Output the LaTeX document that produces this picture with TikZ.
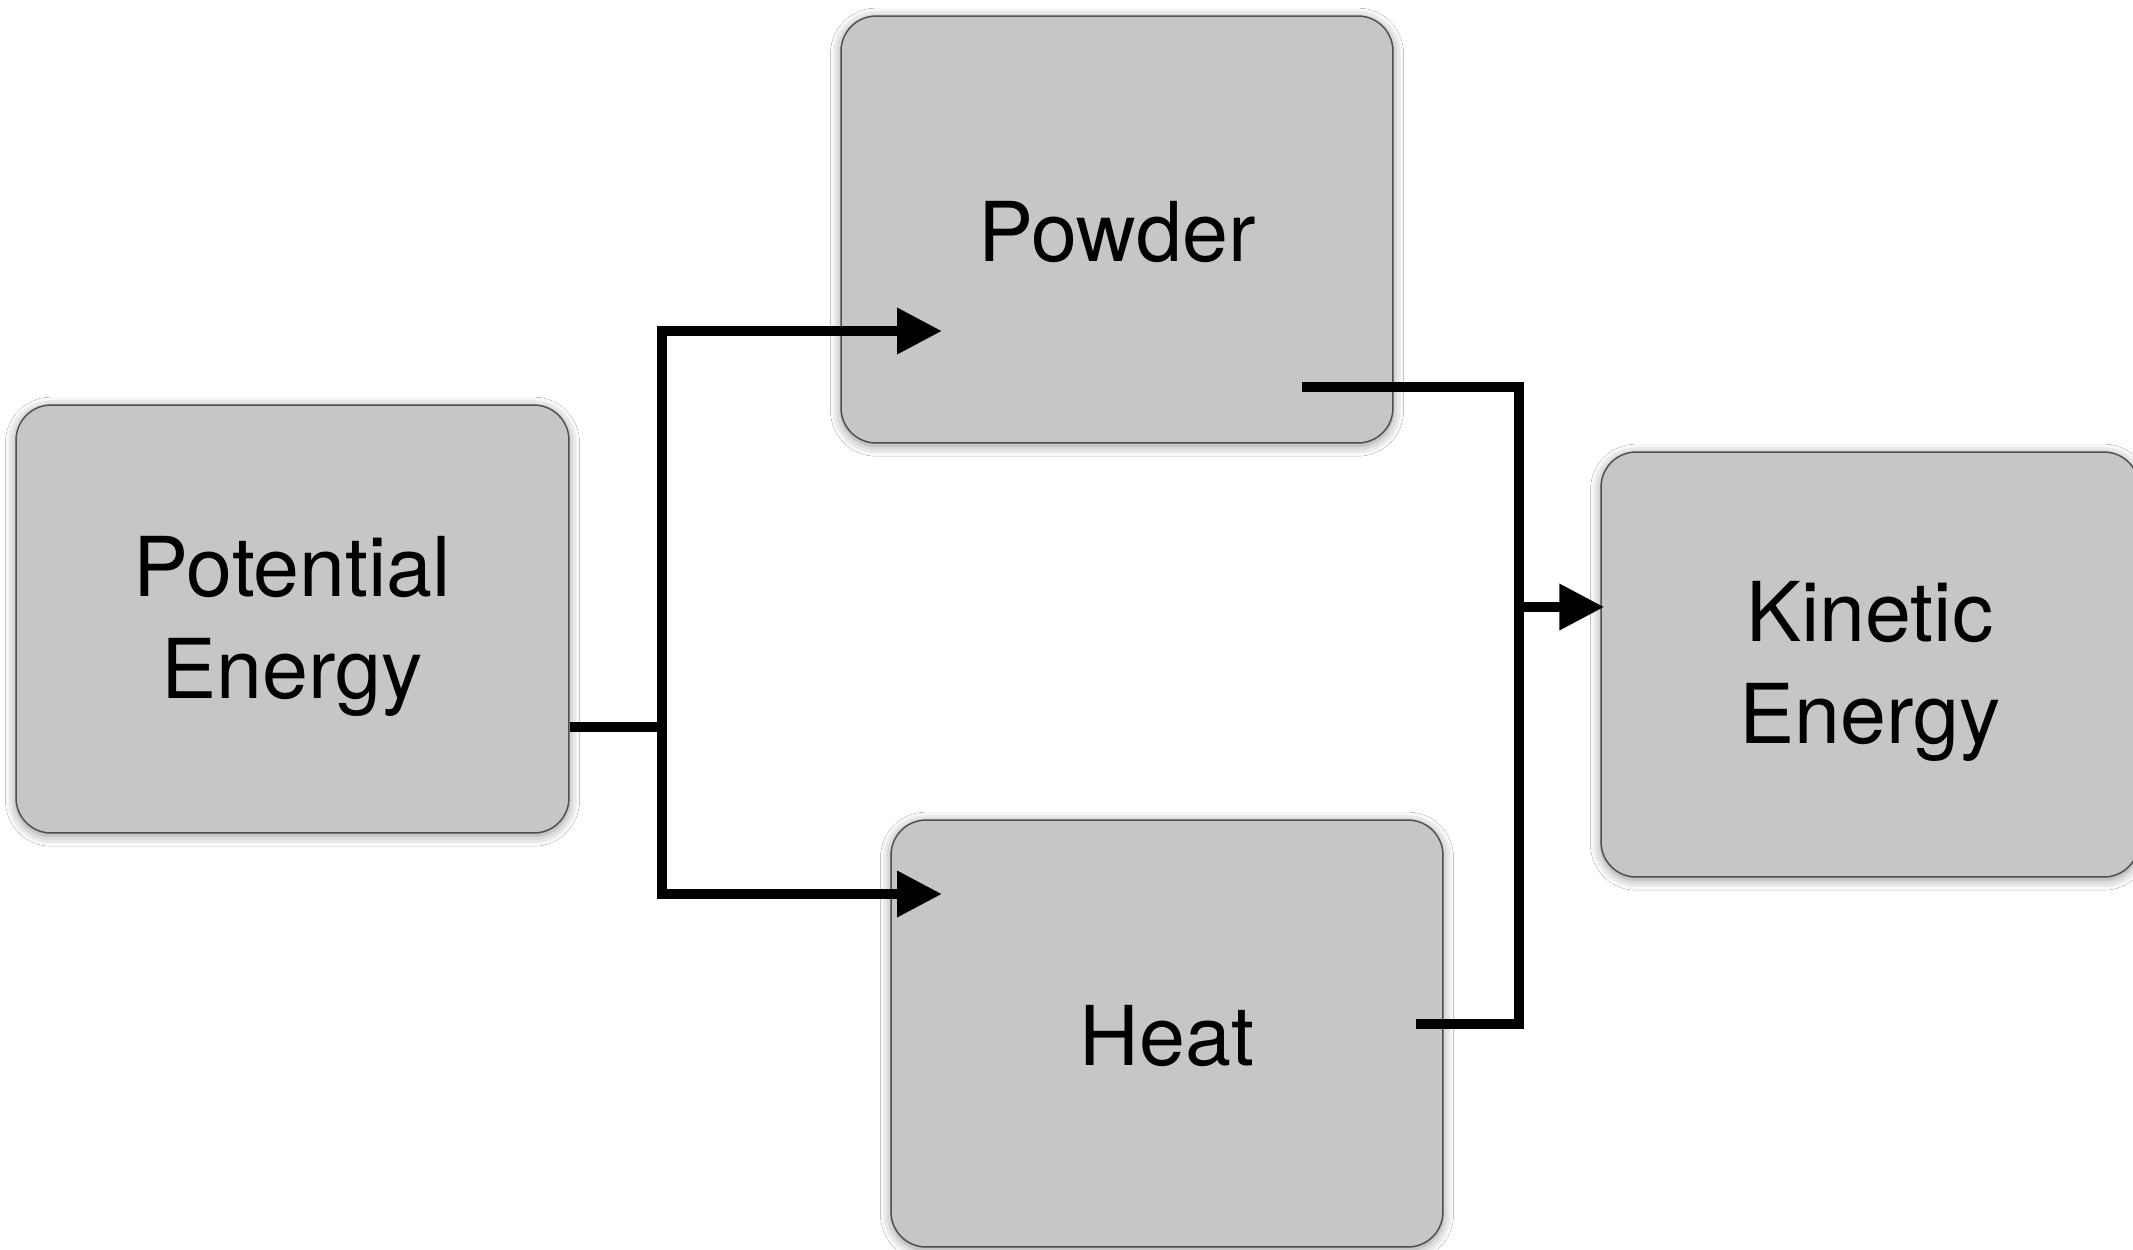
\documentclass[tikz,border=0pt]{standalone}
\usepackage{fontspec}
\setmainfont{TeX Gyre Heros}
\usetikzlibrary{arrows.meta,shadows.blur}
\definecolor{boxfill}{HTML}{C6C6C8}
\definecolor{boxline}{HTML}{505050}
\tikzset{
  px/.style={x=0.02cm,y=-0.02cm},
  energybox/.style={draw=boxline, line width=0.85pt, fill=boxfill, rounded corners=0.7cm,
    inner sep=0pt, align=center, text=black,
    font=\fontsize{47}{58}\selectfont,
    blur shadow={shadow xshift=0pt, shadow yshift=-1.5pt, shadow blur radius=6pt, shadow opacity=45}},
  conn/.style={line width=0.2cm, black, line cap=butt, line join=miter},
  arr/.style={conn, -{Triangle[length=0.9cm, width=0.88cm]}}
}
\begin{document}
\begin{tikzpicture}[px]
\useasboundingbox (0,0) rectangle (2133,1249);
\fill[white] (0,0) rectangle (2133,1249);

\node[energybox, minimum width=11.06cm, minimum height=8.56cm] (pot) at (292.5,619) {\rule{0pt}{0.9em}Potential\\Energy};
\node[energybox, minimum width=11.04cm, minimum height=8.54cm] (powder) at (1117,229.5) {\rule{0pt}{0.8em}Powder};
\node[energybox, minimum width=11.04cm, minimum height=8.54cm] (heat) at (1167,1033.5) {\rule{0pt}{0.8em}Heat};
\node[energybox, minimum width=10.76cm, minimum height=8.5cm] (kin) at (1870,664.5) {\rule{0pt}{0.9em}Kinetic\\Energy};

\coordinate (j) at (662,727);
\coordinate (jtop) at (662,331);
\coordinate (jbot) at (662,894);
\coordinate (powin) at (942,331);
\coordinate (heatin) at (942,894);
\coordinate (powout) at (1302,387);
\coordinate (heatout) at (1416,1024);
\coordinate (m1) at (1519,387);
\coordinate (m2) at (1519,1024);
\coordinate (mk) at (1519,607);

\draw[conn] (pot.east |- j) -- (j);
\draw[arr] (j) -- (jtop) -- (powin);
\draw[arr] (j) -- (jbot) -- (heatin);
\draw[conn] (powout) -- (m1) -- (m2) -- (heatout);
\draw[arr] (mk) -- ([xshift=0.08cm]kin.west |- mk);
\end{tikzpicture}
\end{document}
